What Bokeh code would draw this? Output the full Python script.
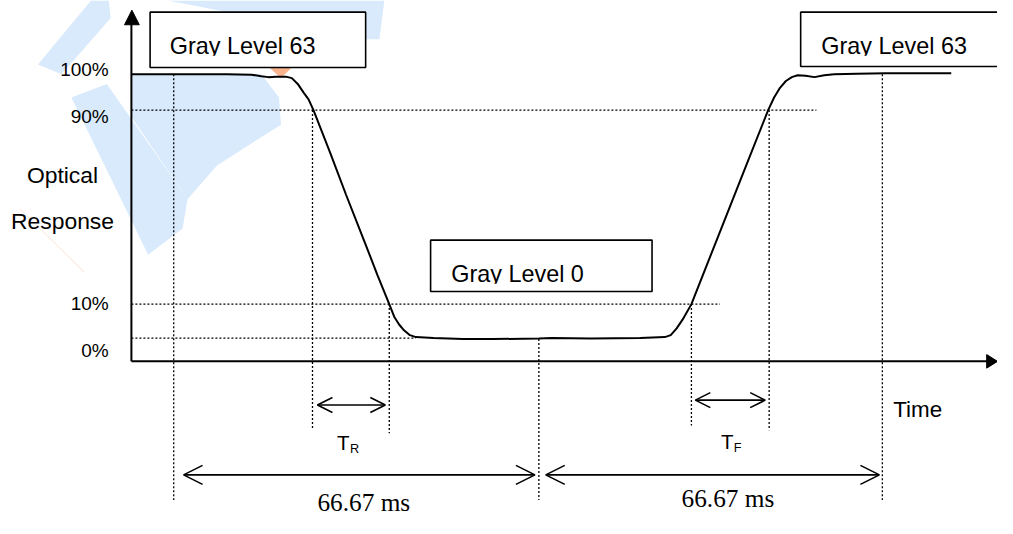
from bokeh.plotting import figure
from bokeh.models import Range1d, Arrow, OpenHead
from bokeh.core.properties import value
from bokeh.embed import file_html
from bokeh.resources import INLINE

# ---- schematic data (diagram coordinates: x = time position, y = response position, y grows downward)
curve_x = [133, 180, 230, 255, 265, 272, 280, 290, 296, 302, 308, 313, 318, 335, 351, 370, 383, 395,
           400, 405, 410, 416, 422, 440, 470, 500, 547, 560, 600, 650, 675, 681, 687, 693, 702,
           730, 760, 780, 786, 792, 798, 804, 810, 818, 827, 837, 847, 870, 900, 966]
curve_y = [76, 76, 76, 76.5, 78, 79, 78.5, 78.5, 80, 86, 95, 102, 113, 157, 200, 249, 283, 313,
           326, 334, 340, 345, 347, 348, 349, 349, 348.5, 348, 348.5, 348, 347, 345, 338, 329, 313,
           241, 164, 113, 100, 90, 83, 79, 77, 77.5, 79, 77, 76, 75.5, 75, 75]

level_labels = ["100%", "90%", "10%", "0%"]
label_baseline = [78, 126, 319, 367]

guide_y = [113, 313, 348]          # 90 %, 10 %, 0 % threshold lines
guide_end = [829, 731, 422]

event_x = [176, 317, 395, 547, 702, 781, 896]
event_top = [76, 113, 313, 349, 313, 113, 76]
event_bottom = [515, 442, 446, 515, 438, 443, 515]

# double arrows: T_R, T_F, first frame, second frame
span_x0 = [322, 706, 186, 554]
span_x1 = [391, 777, 543, 893]
span_y = [417, 412, 489, 489]
span_head = [15, 15, 19, 19]

frame_labels = ["66.67 ms", "66.67 ms"]
frame_label_x = [322, 692]
frame_label_y = [526, 522]

# level boxes
box_labels = ["Gray Level 63", "Gray Level 0", "Gray Level 63"]
box_left = [152, 437, 813]
box_right = [371, 662, 1060]
box_top = [12, 247, 12]
box_bottom = [69, 300, 68]
box_text_x = [172, 458, 834]
box_text_y = [55, 290, 55]

# watermark (faint background logo)
wm_xs = [[38, 62, 112, 110, 92],
         [72, 108, 190, 185, 150],
         [133, 265, 283, 285, 220, 190, 133],
         [170, 390, 385, 372]]
wm_ys = [[66, 76, 18, 0, 0],
         [100, 86, 205, 235, 262],
         [76, 76, 100, 128, 170, 205, 120],
         [0, 0, 40, 40]]

W, H = 997, 518
REF_W, REF_H = 1013, 534
SY = H / REF_H

p = figure(width=W, height=H, x_range=Range1d(0, REF_W), y_range=Range1d(REF_H, 0),
           output_backend="svg", toolbar_location=None, min_border=0)
p.axis.visible = False
p.grid.visible = False
p.outline_line_color = None
p.background_fill_color = "white"

SANS = value("Liberation Sans")
SERIF = value("Liberation Serif")


def txt(xs, ys, labels, font, size, align="left", color="black"):
    # draw texts with their alphabetic baseline at ys (small renderer offset compensated)
    fs = size * 0.975
    shift = 0.33 * fs / SY
    p.text(x=xs, y=[y - shift for y in ys], text=labels, text_font=font,
           text_font_size=f"{fs:.1f}px", text_baseline="alphabetic", text_align=align,
           text_color=color)


# watermark
p.patches(wm_xs, wm_ys, fill_color="#d8eafb", line_color=None)
p.line([20, 85], [215, 280], line_color="#fbe2d2", line_width=1)
p.patch([273, 296, 285], [69, 69, 80], fill_color="#f9b48e", line_color=None)

# dotted guides
for gy, ge in zip(guide_y, guide_end):
    p.line([133, ge], [gy, gy], line_color="black", line_width=1.3, line_dash="2 2")
p.segment(x0=event_x, y0=event_top, x1=event_x, y1=event_bottom,
          line_color="black", line_width=1.3, line_dash="2 2")

# axes
p.line([133, 133], [372, 24], line_color="black", line_width=2)
p.patch([126, 141, 133.5], [25, 25, 10], fill_color="black", line_color="black")
p.line([133, 1004], [372, 372], line_color="black", line_width=2)
p.patch([1002, 1002, 1013], [365, 379, 372], fill_color="black", line_color="black")

# response curve
p.line(curve_x, curve_y, line_color="black", line_width=2)

# boxes
p.quad(left=box_left, right=box_right, top=box_top, bottom=box_bottom,
       fill_color="white", line_color=None)
txt(box_text_x, box_text_y, box_labels, SANS, 24)
# descenders are clipped by the box bottom in the original drawing
p.quad(left=[b + 2 for b in box_left], right=[b - 2 for b in box_right],
       top=[t + 2 for t in box_text_y], bottom=[b - 1 for b in box_bottom],
       fill_color="white", line_color=None)
p.quad(left=box_left, right=box_right, top=box_top, bottom=box_bottom,
       fill_color=None, line_color="black", line_width=1.6)

# level labels
txt([110] * 4, label_baseline, level_labels, SANS, 19.5, align="right")
txt([63, 63], [188, 235], ["Optical", "Response"], SANS, 23.5, align="center")
txt([907], [429], ["Time"], SANS, 23)

# T_R / T_F
txt([342, 732], [463, 462], ["T", "T"], SANS, 21)
txt([355, 745], [467, 466], ["R", "F"], SANS, 13)

# double arrows
for x0, x1, y, hs in zip(span_x0, span_x1, span_y, span_head):
    p.add_layout(Arrow(start=OpenHead(size=hs, line_width=1.6, line_color="black"),
                       end=OpenHead(size=hs, line_width=1.6, line_color="black"),
                       x_start=x0, y_start=y, x_end=x1, y_end=y,
                       line_width=1.6, line_color="black"))

txt(frame_label_x, frame_label_y, frame_labels, SERIF, 26)

open("out.html", "w").write(file_html(p, INLINE))
